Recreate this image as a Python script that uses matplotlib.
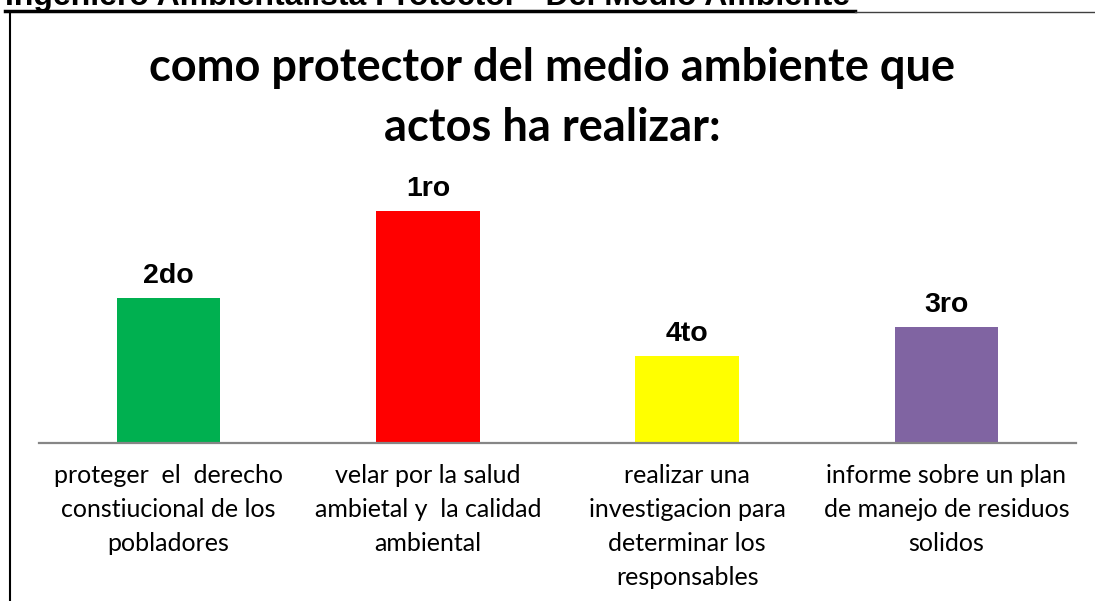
import matplotlib.pyplot as plt
from matplotlib.lines import Line2D

categorias = ["proteger  el  derecho\nconstiucional de los\npobladores",
              "velar por la salud\nambietal y  la calidad\nambiental",
              "realizar una\ninvestigacion para\ndeterminar los\nresponsables",
              "informe sobre un plan\nde manejo de residuos\nsolidos"]
valores = [25, 40, 15, 20]
etiquetas = ["2do", "1ro", "4to", "3ro"]
colores = ["#00B050", "#FF0000", "#FFFF00", "#8064A2"]

W, H = 1095, 601
fig = plt.figure(figsize=(W / 100, H / 100), dpi=100)

# area del grafico (en pixeles de la imagen)
x0, x1, ytop, ybase = 39, 1076, 170, 443
ax = fig.add_axes([x0 / W, 1 - ybase / H, (x1 - x0) / W, (ybase - ytop) / H])

pos = range(len(valores))
ax.bar(pos, valores, width=0.4, color=colores)
ax.set_xlim(-0.5, len(valores) - 0.5)
ax.set_ylim(0, 40 / (232 / 273))

for p, v, t in zip(pos, valores, etiquetas):
    ax.annotate(t, (p, v), xytext=(0, 6.5), textcoords="offset points",
                ha="center", va="bottom", fontsize=20.5, fontweight="bold",
                family="Liberation Sans")

ax.set_xticks(list(pos))
ax.set_xticklabels(categorias, family="Lato", fontsize=18, linespacing=1.58,
                   multialignment="center", va="top")
ax.tick_params(axis="x", length=0, pad=15)
ax.set_yticks([])
for s in ["top", "left", "right"]:
    ax.spines[s].set_visible(False)
ax.spines["bottom"].set_color("#868686")
ax.spines["bottom"].set_linewidth(1.6)

# titulo
fig.text(0.5 * (x0 + x1) / W - 0.005, 1 - 98 / H,
         "como protector del medio ambiente que\nactos ha realizar:",
         ha="center", va="center", fontsize=32.5, fontweight="bold",
         family="Lato", linespacing=1.52)

# encabezado recortado arriba
fig.text(5 / W, 1 - 5 / H, "Ingeniero Ambientalista Protector - Del Medio Ambiente",
         ha="left", va="baseline", fontsize=23, fontweight="bold",
         family="Liberation Sans")
fig.add_artist(Line2D([5 / W, 855 / W], [1 - 11 / H, 1 - 11 / H], color="black", lw=2.5))
fig.add_artist(Line2D([855 / W, 1], [1 - 12 / H, 1 - 12 / H], color="#404040", lw=1))
fig.add_artist(Line2D([9.5 / W, 9.5 / W], [1 - 12 / H, 0], color="black", lw=1.5))

fig.savefig("out.png", dpi=100)
